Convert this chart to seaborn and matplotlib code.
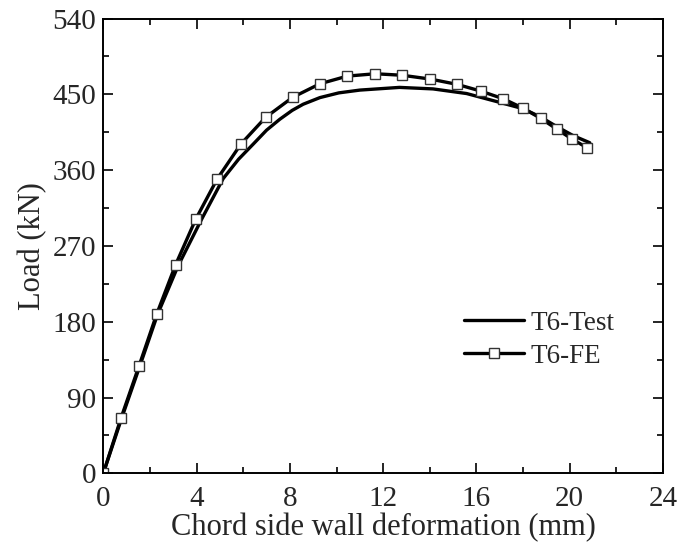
import matplotlib
matplotlib.use("Agg")
import matplotlib.pyplot as plt
import seaborn as sns
import pandas as pd
from matplotlib.ticker import MultipleLocator

# Data
test_x = [0.0, 0.78, 1.56, 2.33, 3.2, 4.22, 5.14, 5.8, 6.43, 7.0, 7.57, 8.1, 8.57, 9.29,
          10.1, 11.0, 12.7, 14.14, 15.58, 17.0, 18.0, 18.76, 19.43, 20.15, 20.86]
test_y = [0.0, 65.0, 127.0, 189.0, 246.0, 302.0, 350.0, 373.0, 391.0, 407.5, 420.5, 431.0, 438.3, 446.2,
          451.8, 455.1, 458.3, 456.5, 451.0, 440.5, 433.0, 423.0, 412.0, 401.0, 392.6]

fe_x = [0.0, 0.76, 1.53, 2.29, 3.10, 3.96, 4.88, 5.90, 6.96, 8.12, 9.29, 10.46,
        11.66, 12.82, 14.02, 15.17, 16.19, 17.15, 17.99, 18.76, 19.46, 20.10, 20.75]
fe_y = [0.0, 65.7, 127.4, 189.1, 247.7, 301.6, 349.4, 391.0, 422.7, 446.5, 462.6, 471.7,
        474.5, 472.7, 468.2, 461.9, 453.9, 444.8, 433.7, 421.5, 408.5, 396.9, 386.6]

x_ticks = [0, 4, 8, 12, 16, 20, 24]
y_ticks = [0, 90, 180, 270, 360, 450, 540]

sns.set_theme(style="ticks")
plt.rcParams["font.family"] = ["Liberation Serif", "DejaVu Serif"]
plt.rcParams["mathtext.fontset"] = "stix"

fig = plt.figure(figsize=(7.0, 5.47), dpi=100)
ax = fig.add_axes([0.1476, 0.1347, 0.7995, 0.8313])

df_test = pd.DataFrame({"x": test_x, "y": test_y})
df_fe = pd.DataFrame({"x": fe_x, "y": fe_y})

sns.lineplot(data=df_test, x="x", y="y", ax=ax, color="black", lw=2.4,
             sort=False, label="T6-Test")
sns.lineplot(data=df_fe, x="x", y="y", ax=ax, color="black", lw=2.4,
             sort=False, marker="s", markersize=6.5, markerfacecolor="white",
             markeredgecolor="#333333", markeredgewidth=1.0, label="T6-FE")

ax.set_xlim(0, 24)
ax.set_ylim(0, 540)
ax.set_xticks(x_ticks)
ax.set_yticks(y_ticks)
ax.xaxis.set_minor_locator(MultipleLocator(2))
ax.yaxis.set_minor_locator(MultipleLocator(45))
ax.tick_params(which="both", direction="in", top=True, right=True,
               labeltop=False, labelright=False, color="black", width=1.2)
ax.tick_params(which="major", length=7, labelsize=21, pad=5)
ax.tick_params(axis="x", which="major", pad=9)
ax.tick_params(which="minor", length=4)
for s in ax.spines.values():
    s.set_linewidth(1.4)
    s.set_color("black")

ax.set_xlabel("Chord side wall deformation (mm)", fontsize=22, labelpad=1)
ax.set_ylabel("Load (kN)", fontsize=22, labelpad=4)

leg = ax.legend(loc="center left", bbox_to_anchor=(0.626, 0.294), frameon=False,
                fontsize=19.5, handlelength=2.2, handletextpad=0.25,
                labelspacing=0.3, borderaxespad=0)

fig.savefig("out.png", dpi=100)
